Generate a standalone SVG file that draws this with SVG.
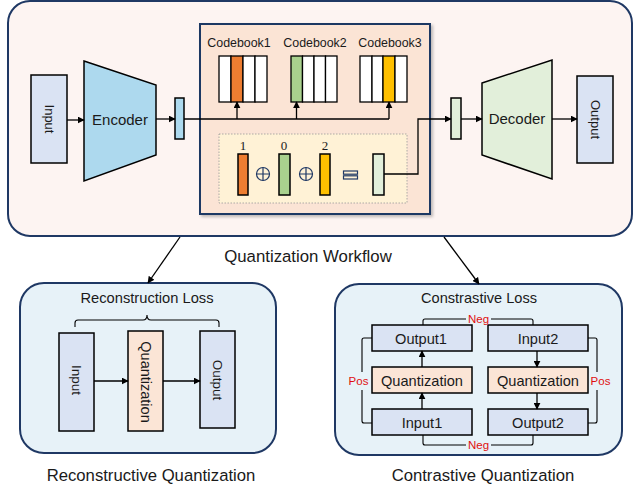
<svg xmlns="http://www.w3.org/2000/svg" width="633" height="491" viewBox="0 0 633 491">
<style>
text{font-family:"Liberation Sans",Arial,sans-serif;fill:#1a1a1a}
.n{stroke:#000;stroke-width:1.5}
.blue{fill:#dae3f3}
.peach{fill:#fbe5d6}
.frame{stroke:#1f3864;stroke-width:2}
.ln{fill:none;stroke:#000;stroke-width:1.3}
.br{fill:none;stroke:#000;stroke-width:1.1}
.red{fill:#e01010;font-size:11.5px}
.cell{fill:#fff;stroke:#000;stroke-width:1.3}
.num{font-family:"Liberation Serif","Times New Roman",serif;font-size:13px}
.op{fill:none;stroke:#1f3864;stroke-width:1.2}
.bx{font-size:14.6px}
</style>
<defs>
<marker id="ah" viewBox="0 0 10 10" refX="9" refY="5" markerWidth="7" markerHeight="7" markerUnits="userSpaceOnUse" orient="auto"><path d="M0,0 L10,5 L0,10 z" fill="#000"/></marker>
<filter id="sh" x="-5%" y="-5%" width="115%" height="115%"><feDropShadow dx="2" dy="2" stdDeviation="1.5" flood-color="#000" flood-opacity="0.25"/></filter>
</defs>

<g id="workflow">
<rect x="8" y="1" width="624" height="235" rx="22" fill="#fdf4f2" class="frame"/>
<text x="308" y="262" font-size="16.8" text-anchor="middle">Quantization Workflow</text>
</g>

<g id="input">
<rect x="31" y="75" width="36" height="88" class="n blue"/>
<text transform="translate(49,119) rotate(90)" font-size="13" text-anchor="middle" dominant-baseline="central">Input</text>
</g>
<g id="encoder">
<polygon points="84,61 156,85 156,155 84,181" fill="#add9ee" class="n"/>
<text x="120" y="125" font-size="15" text-anchor="middle">Encoder</text>
</g>
<g id="enc-vec">
<rect x="175" y="98" width="9" height="41" fill="#add9ee" class="n"/>
</g>

<g id="codebook-panel">
<rect x="200" y="24" width="230" height="190" fill="#fbe4d5" class="frame" filter="url(#sh)"/>
</g>
<g id="codebook1">
<text x="239" y="47" font-size="12.4" text-anchor="middle">Codebook1</text>
<rect x="219" y="56" width="12" height="46" class="cell"/>
<rect x="231" y="56" width="12" height="46" class="cell" style="fill:#ed7d31"/>
<rect x="243" y="56" width="12" height="46" class="cell"/>
<rect x="255" y="56" width="12" height="46" class="cell"/>
</g>
<g id="codebook2">
<text x="315" y="47" font-size="12.4" text-anchor="middle">Codebook2</text>
<rect x="291" y="56" width="11.5" height="46" class="cell" style="fill:#a9d18e"/>
<rect x="302.5" y="56" width="11.5" height="46" class="cell"/>
<rect x="314" y="56" width="11.5" height="46" class="cell"/>
<rect x="325.5" y="56" width="11.5" height="46" class="cell"/>
</g>
<g id="codebook3">
<text x="390" y="47" font-size="12.4" text-anchor="middle">Codebook3</text>
<rect x="360" y="56" width="12" height="46" class="cell"/>
<rect x="372" y="56" width="11" height="46" class="cell"/>
<rect x="383" y="56" width="12" height="46" class="cell" style="fill:#ffc000"/>
<rect x="395" y="56" width="12" height="46" class="cell"/>
</g>

<g id="composition">
<rect x="219" y="134" width="188" height="69" fill="#fff2d6" stroke="#999" stroke-width="0.8" stroke-dasharray="1.5,1.5"/>
<text x="243" y="150" class="num" text-anchor="middle">1</text>
<text x="284" y="150" class="num" text-anchor="middle">0</text>
<text x="325" y="150" class="num" text-anchor="middle">2</text>
<rect x="238" y="154" width="10" height="41" fill="#ed7d31" class="n"/>
<rect x="279" y="154" width="11" height="41" fill="#a9d18e" class="n"/>
<rect x="320" y="154" width="10" height="41" fill="#ffc000" class="n"/>
<rect x="373" y="154" width="11" height="41" fill="#e2efda" class="n"/>
<circle cx="263" cy="174" r="6.5" class="op"/>
<path d="M256.5,174 H269.5 M263,167.5 V180.5" class="op"/>
<circle cx="306" cy="174" r="6.5" class="op"/>
<path d="M299.5,174 H312.5 M306,167.5 V180.5" class="op"/>
<rect x="343.5" y="171" width="14" height="3.2" fill="#dae3f3" class="op"/>
<rect x="343.5" y="175.8" width="14" height="3.2" fill="#dae3f3" class="op"/>
</g>

<g id="dec-vec">
<rect x="451" y="98" width="10" height="41" fill="#e2efda" class="n"/>
</g>
<g id="decoder">
<polygon points="482,83 552,60 552,179 482,155" fill="#e2efda" class="n"/>
<text x="517" y="124" font-size="15" text-anchor="middle">Decoder</text>
</g>
<g id="output">
<rect x="577" y="76" width="36" height="87" class="n blue"/>
<text transform="translate(595,119.5) rotate(90)" font-size="13" text-anchor="middle" dominant-baseline="central">Output</text>
</g>

<g id="recon">
<rect x="20" y="283" width="256" height="170" rx="24" fill="#e7f2f8" class="frame"/>
<text x="147" y="303" font-size="14.7" text-anchor="middle">Reconstruction Loss</text>
<path d="M75,327 V323 Q75,320 78,320 H143 Q147,320 147,315 Q147,320 151,320 H216 Q219,320 219,323 V327" class="br"/>
<rect x="59" y="333" width="35" height="98" class="n blue"/>
<text transform="translate(76.5,380) rotate(90)" font-size="13.5" text-anchor="middle" dominant-baseline="central">Input</text>
<rect x="128" y="331" width="35" height="100" class="n peach"/>
<text transform="translate(145.5,382) rotate(90)" font-size="14.5" text-anchor="middle" dominant-baseline="central">Quantization</text>
<rect x="200" y="331" width="35" height="97" class="n blue"/>
<text transform="translate(217.5,380) rotate(90)" font-size="13.5" text-anchor="middle" dominant-baseline="central">Output</text>
<text x="151" y="481" font-size="16.7" text-anchor="middle">Reconstructive Quantization</text>
</g>

<g id="contrast">
<rect x="335" y="284" width="287" height="171" rx="24" fill="#e7f2f8" class="frame"/>
<text x="479" y="303" font-size="14.6" text-anchor="middle">Constrastive Loss</text>
<rect x="372" y="325" width="100" height="26" class="n blue"/>
<text x="421" y="343.5" class="bx" text-anchor="middle">Output1</text>
<rect x="372" y="367" width="100" height="26" class="n peach"/>
<text x="422" y="385.5" class="bx" text-anchor="middle">Quantization</text>
<rect x="372" y="409" width="100" height="26" class="n blue"/>
<text x="422" y="427.5" class="bx" text-anchor="middle">Input1</text>
<rect x="488" y="325" width="100" height="26" class="n blue"/>
<text x="538" y="343.5" class="bx" text-anchor="middle">Input2</text>
<rect x="488" y="367" width="100" height="26" class="n peach"/>
<text x="538" y="385.5" class="bx" text-anchor="middle">Quantization</text>
<rect x="488" y="409" width="100" height="26" class="n blue"/>
<text x="538" y="427.5" class="bx" text-anchor="middle">Output2</text>
<path d="M423,325 V321 Q423,319 425,319 H466 M491,319 H531 Q533,319 533,321 V325" class="br"/>
<text x="478.5" y="323" class="red" text-anchor="middle">Neg</text>
<path d="M423,435 V443 Q423,445 425,445 H466 M491,445 H531 Q533,445 533,443 V435" class="br"/>
<text x="478.5" y="449" class="red" text-anchor="middle">Neg</text>
<path d="M372,338 H364 Q362,338 362,340 V372 M362,390 V421 Q362,423 364,423 H372" class="br"/>
<text x="358.5" y="385" class="red" text-anchor="middle">Pos</text>
<path d="M588,338 H595 Q597,338 597,340 V372 M597,390 V421 Q597,423 595,423 H588" class="br"/>
<text x="600.5" y="385" class="red" text-anchor="middle">Pos</text>
<text x="483" y="481" font-size="16.7" text-anchor="middle">Contrastive Quantization</text>
</g>

<g id="connectors">
<line x1="67" y1="120" x2="84" y2="120" class="ln" marker-end="url(#ah)"/>
<line x1="156" y1="119" x2="175" y2="119" class="ln" marker-end="url(#ah)"/>
<path d="M184,119 H389" class="ln"/>
<line x1="237" y1="119" x2="237" y2="102" class="ln" marker-end="url(#ah)"/>
<line x1="296.5" y1="119" x2="296.5" y2="102" class="ln" marker-end="url(#ah)"/>
<line x1="389" y1="119" x2="389" y2="102" class="ln" marker-end="url(#ah)"/>
<path d="M384,174 H418 V119 H451" class="ln" marker-end="url(#ah)"/>
<line x1="461" y1="119" x2="482" y2="119" class="ln" marker-end="url(#ah)"/>
<line x1="552" y1="119" x2="577" y2="119" class="ln" marker-end="url(#ah)"/>
<line x1="180" y1="237" x2="148" y2="283" class="ln" marker-end="url(#ah)"/>
<line x1="444" y1="237" x2="479" y2="284" class="ln" marker-end="url(#ah)"/>
<line x1="94" y1="381" x2="128" y2="381" class="ln" marker-end="url(#ah)"/>
<line x1="163" y1="381" x2="200" y2="381" class="ln" marker-end="url(#ah)"/>
<line x1="422" y1="409" x2="422" y2="393" class="ln" marker-end="url(#ah)"/>
<line x1="422" y1="367" x2="422" y2="351" class="ln" marker-end="url(#ah)"/>
<line x1="537" y1="351" x2="537" y2="367" class="ln" marker-end="url(#ah)"/>
<line x1="537" y1="393" x2="537" y2="409" class="ln" marker-end="url(#ah)"/>
</g>
</svg>
